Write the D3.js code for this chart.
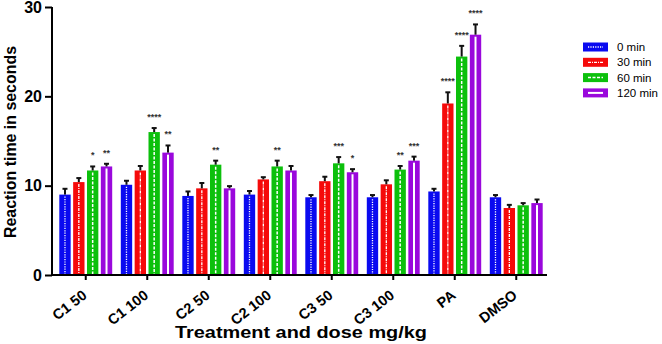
<!DOCTYPE html>
<html>
<head>
<meta charset="utf-8">
<script src="https://cdn.jsdelivr.net/npm/d3@7"></script>
<style>
  html, body { margin: 0; padding: 0; background: #fff; }
  svg { display: block; font-family: "Liberation Sans", Arial, sans-serif; }
</style>
</head>
<body>
<svg id="chart" width="662" height="344"></svg>
<script>
// --- data ---
const categories = ['C1 50', 'C1 100', 'C2 50', 'C2 100', 'C3 50', 'C3 100', 'PA', 'DMSO'];
const seriesNames = ['0 min', '30 min', '60 min', '120 min'];

const values0 = [9.0, 10.1, 8.85, 9.0, 8.7, 8.7, 9.35, 8.7];
const values30 = [10.4, 11.7, 9.7, 10.7, 10.5, 10.15, 19.2, 7.5];
const values60 = [11.7, 16.0, 12.35, 12.15, 12.5, 11.8, 24.45, 7.8];
const values120 = [12.15, 13.7, 9.7, 11.7, 11.5, 12.8, 26.9, 8.05];

const err0 = [0.65, 0.45, 0.5, 0.4, 0.25, 0.25, 0.3, 0.25];
const err30 = [0.45, 0.5, 0.6, 0.25, 0.5, 0.45, 1.25, 0.35];
const err60 = [0.45, 0.45, 0.45, 0.65, 0.7, 0.4, 1.2, 0.25];
const err120 = [0.3, 0.8, 0.25, 0.5, 0.35, 0.45, 1.15, 0.4];

const stars0 = ['', '', '', '', '', '', '', ''];
const stars30 = ['', '', '', '', '', '', '****', ''];
const stars60 = ['*', '****', '**', '**', '***', '**', '****', ''];
const stars120 = ['**', '**', '', '', '*', '***', '****', ''];

const yTicks = [0, 10, 20, 30];

const seriesValues = [values0, values30, values60, values120];
const seriesErr = [err0, err30, err60, err120];
const seriesStars = [stars0, stars30, stars60, stars120];

// --- look ---
const colors = ['#0a0af0', '#f50a0a', '#0cc00c', '#9a08dc'];
const stripes = [
  { dash: '1.2,1.2', w: 1.3 },
  { dash: '3,1,1,1', w: 1.3 },
  { dash: '3,1.5', w: 1.5 },
  { dash: null, w: 2 }
];

const svg = d3.select('#chart');
const axisX = 52;
const plotTop = 7, plotBottom = 275;

const x = d3.scaleBand()
  .domain(categories)
  .range([55, 547])
  .paddingInner(0.14)
  .paddingOuter(0.07);

const xs = d3.scaleBand()
  .domain(d3.range(seriesNames.length))
  .range([0, x.bandwidth()])
  .paddingInner(0.18);

const y = d3.scaleLinear().domain([0, 30]).range([plotBottom, plotTop]);

const rows = [];
categories.forEach((c, ci) => {
  seriesNames.forEach((s, si) => {
    rows.push({
      cat: c, si,
      v: seriesValues[si][ci],
      e: seriesErr[si][ci],
      star: seriesStars[si][ci]
    });
  });
});

const g = svg.append('g');

// bars
const bar = g.selectAll('g.bar')
  .data(rows)
  .join('g')
  .attr('class', 'bar')
  .attr('transform', d => `translate(${x(d.cat) + xs(d.si)},0)`);

bar.append('rect')
  .attr('x', 0)
  .attr('width', xs.bandwidth())
  .attr('y', d => y(d.v))
  .attr('height', d => y(0) - y(d.v))
  .attr('fill', d => colors[d.si]);

bar.append('line')
  .attr('x1', xs.bandwidth() / 2)
  .attr('x2', xs.bandwidth() / 2)
  .attr('y1', d => y(d.v) + 2)
  .attr('y2', y(0) - 1)
  .attr('stroke', '#fff')
  .attr('stroke-width', d => stripes[d.si].w)
  .attr('stroke-dasharray', d => stripes[d.si].dash);

// error bars (upper only)
bar.append('line')
  .attr('x1', xs.bandwidth() / 2)
  .attr('x2', xs.bandwidth() / 2)
  .attr('y1', d => y(d.v))
  .attr('y2', d => y(d.v + d.e))
  .attr('stroke', '#111')
  .attr('stroke-width', 2);

bar.append('line')
  .attr('x1', xs.bandwidth() / 2 - 2.5)
  .attr('x2', xs.bandwidth() / 2 + 2.5)
  .attr('y1', d => y(d.v + d.e))
  .attr('y2', d => y(d.v + d.e))
  .attr('stroke', '#111')
  .attr('stroke-width', 2);

// significance stars
bar.filter(d => d.star)
  .append('text')
  .attr('x', xs.bandwidth() / 2)
  .attr('y', d => y(d.v + d.e) - 8)
  .attr('text-anchor', 'middle')
  .attr('font-size', 9)
  .attr('font-weight', 'bold')
  .attr('fill', '#333')
  .text(d => d.star);

// y axis
const yAxis = svg.append('g')
  .attr('transform', `translate(${axisX},0)`)
  .call(d3.axisLeft(y).tickValues(yTicks).tickSize(7).tickPadding(3).tickSizeOuter(0));
yAxis.select('.domain').remove();
yAxis.selectAll('line').attr('stroke', '#000').attr('stroke-width', 2);
yAxis.selectAll('text')
  .attr('font-size', 16)
  .attr('font-weight', 'bold')
  .attr('font-family', '"Liberation Sans", Arial, sans-serif')
  .attr('fill', '#000');

svg.append('line')
  .attr('x1', axisX).attr('x2', axisX)
  .attr('y1', plotTop).attr('y2', plotBottom + 1)
  .attr('stroke', '#000').attr('stroke-width', 2);

// x axis: ticks from the axis, labels drawn separately and slanted
const xAxis = svg.append('g')
  .attr('transform', `translate(0,${plotBottom})`)
  .call(d3.axisBottom(x).tickSize(5).tickSizeOuter(0));
xAxis.select('.domain').remove();
xAxis.selectAll('text').remove();
xAxis.selectAll('line').attr('stroke', '#000').attr('stroke-width', 2);

svg.append('g')
  .selectAll('text')
  .data(categories)
  .join('text')
  .attr('transform', d => `translate(${x(d) + x.bandwidth() / 2 + 2},${plotBottom + 22}) rotate(-38)`)
  .attr('text-anchor', 'end')
  .attr('font-size', 14.5)
  .attr('font-weight', 'bold')
  .attr('fill', '#000')
  .text(d => d);

svg.append('line')
  .attr('x1', axisX - 1).attr('x2', 547)
  .attr('y1', plotBottom).attr('y2', plotBottom)
  .attr('stroke', '#000').attr('stroke-width', 2);

// axis titles
svg.append('text')
  .attr('transform', `translate(16,${(plotTop + plotBottom) / 2 + 1}) rotate(-90)`)
  .attr('text-anchor', 'middle')
  .attr('font-size', 17)
  .attr('font-weight', 'bold')
  .attr('textLength', 192)
  .attr('lengthAdjust', 'spacingAndGlyphs')
  .text('Reaction time in seconds');

svg.append('text')
  .attr('x', 301)
  .attr('y', 338)
  .attr('text-anchor', 'middle')
  .attr('font-size', 17)
  .attr('font-weight', 'bold')
  .attr('textLength', 252)
  .attr('lengthAdjust', 'spacingAndGlyphs')
  .text('Treatment and dose mg/kg');

// legend
const legend = svg.append('g')
  .selectAll('g')
  .data(seriesNames)
  .join('g')
  .attr('transform', (d, i) => `translate(583,${47 + i * 15.3})`);

legend.append('rect')
  .attr('x', 0).attr('y', -4.5)
  .attr('width', 25).attr('height', 9)
  .attr('fill', (d, i) => colors[i]);

legend.append('line')
  .attr('x1', 5).attr('x2', 20)
  .attr('y1', 0).attr('y2', 0)
  .attr('stroke', '#fff')
  .attr('stroke-width', (d, i) => stripes[i].w)
  .attr('stroke-dasharray', (d, i) => stripes[i].dash);

legend.append('text')
  .attr('x', 34)
  .attr('y', 0)
  .attr('dy', '0.35em')
  .attr('font-size', 11.5)
  .text(d => d);
</script>
</body>
</html>
